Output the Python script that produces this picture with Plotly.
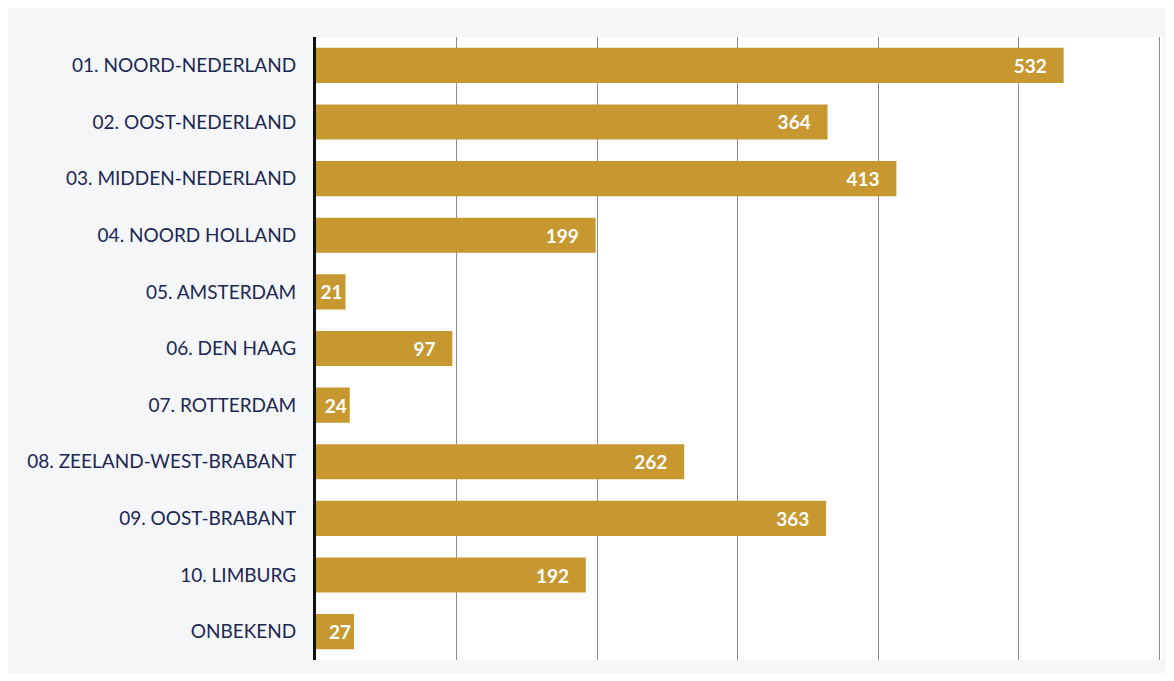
import plotly.graph_objects as go

# regions and counts
regions = [
    "01. NOORD-NEDERLAND",
    "02. OOST-NEDERLAND",
    "03. MIDDEN-NEDERLAND",
    "04. NOORD HOLLAND",
    "05. AMSTERDAM",
    "06. DEN HAAG",
    "07. ROTTERDAM",
    "08. ZEELAND-WEST-BRABANT",
    "09. OOST-BRABANT",
    "10. LIMBURG",
    "ONBEKEND",
]
counts = [532, 364, 413, 199, 21, 97, 24, 262, 363, 192, 27]

BAR_COLOR = "#c6982f"
LABEL_COLOR = "#1c2754"

# a bit of room between the number and the bar end, except on tiny bars
labels = [f"{v}\u00a0\u00a0\u00a0" if v > 50 else f"{v}" for v in counts]

fig = go.Figure()

fig.add_trace(go.Bar(
    x=counts,
    y=regions,
    orientation="h",
    marker=dict(color=BAR_COLOR, line=dict(width=0)),
    text=labels,
    textposition="inside",
    insidetextanchor="end",
    constraintext="none",
    textfont=dict(family="Lato", size=19, color="white", weight="bold"),
    cliponaxis=False,
))

fig.update_layout(
    width=1158,
    height=665,
    margin=dict(l=308, r=4, t=29, b=13),
    paper_bgcolor="#f5f6f7",
    plot_bgcolor="#ffffff",
    bargap=0.38,
    showlegend=False,
    font=dict(family="Lato", color=LABEL_COLOR),
)

fig.update_xaxes(
    range=[0, 602],
    tickvals=[100, 200, 300, 400, 500, 600],
    showgrid=True,
    gridcolor="#8a8d94",
    gridwidth=1,
    showticklabels=False,
    zeroline=False,
    showline=False,
    ticks="",
)

fig.update_yaxes(
    autorange="reversed",
    showline=True,
    linecolor="#111111",
    linewidth=3,
    showgrid=False,
    ticks="",
    ticklabelstandoff=13,
    tickfont=dict(family="Lato", size=19, color=LABEL_COLOR),
)

fig.write_html("out.html")
